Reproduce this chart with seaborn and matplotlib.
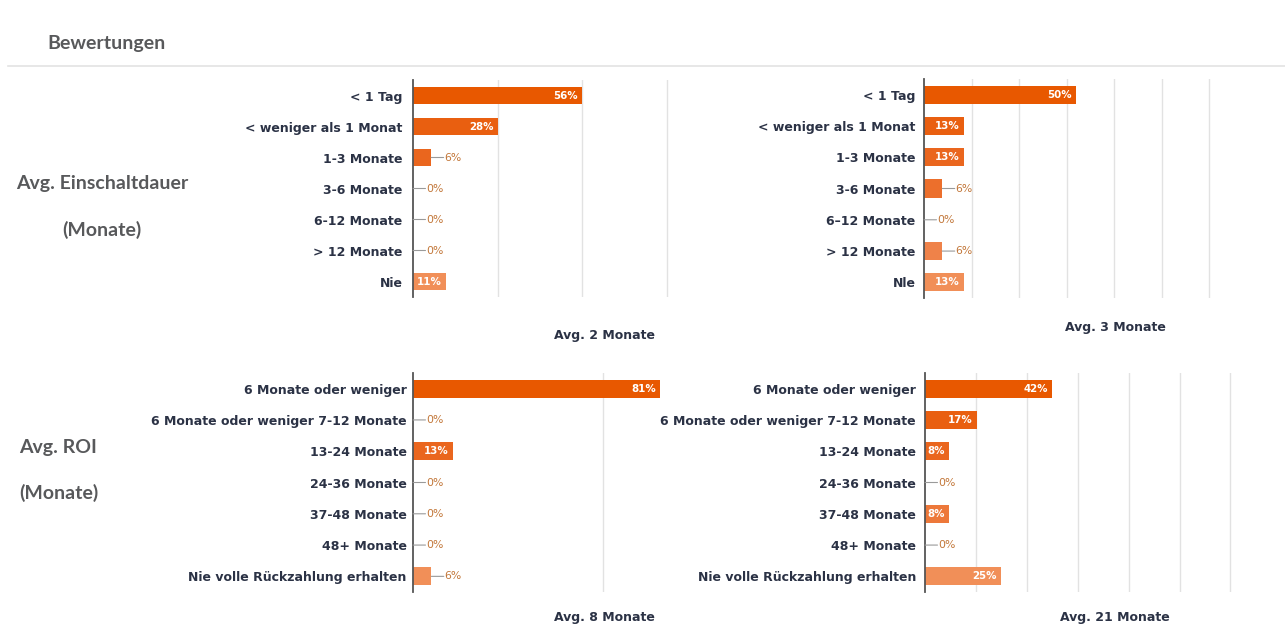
import matplotlib
matplotlib.use("Agg")
import matplotlib.pyplot as plt
from matplotlib.lines import Line2D
import seaborn as sns
import numpy as np

# ---------------- data ----------------
page_title = "Bewertungen"
row_titles = [("Avg. Einschaltdauer", "(Monate)"), ("Avg. ROI", "(Monate)")]

einschalt_cats_left = ["< 1 Tag", "< weniger als 1 Monat", "1-3 Monate", "3-6 Monate",
                       "6-12 Monate", "> 12 Monate", "Nie"]
einschalt_vals_left = [56, 28, 6, 0, 0, 0, 11]

einschalt_cats_right = ["< 1 Tag", "< weniger als 1 Monat", "1-3 Monate", "3-6 Monate",
                        "6–12 Monate", "> 12 Monate", "Nle"]
einschalt_vals_right = [50, 13, 13, 6, 0, 6, 13]

roi_cats = ["6 Monate oder weniger", "6 Monate oder weniger 7-12 Monate", "13-24 Monate",
            "24-36 Monate", "37-48 Monate", "48+ Monate", "Nie volle Rückzahlung erhalten"]
roi_vals_left = [81, 0, 13, 0, 0, 0, 6]
roi_vals_right = [42, 17, 8, 0, 8, 0, 25]

footers = ["Avg. 2 Monate", "Avg. 3 Monate", "Avg. 8 Monate", "Avg. 21 Monate"]

# ---------------- style ----------------
W, H, DPI = 1285, 625, 100
bar_colors = ["#E85800", "#E95F10", "#EA661E", "#EC6F2C", "#ED783A", "#EF8249", "#F18F58"]
label_color = "#2B3245"
grey_title = "#58595B"
out_label_color = "#C27638"
LABEL_FONT = ["DejaVu Sans"]
TITLE_FONT = ["Lato", "DejaVu Sans"]

fig = plt.figure(figsize=(W / DPI, H / DPI), dpi=DPI)
fig.patch.set_facecolor("white")


def px_axes(left, right, top, bottom):
    return fig.add_axes([left / W, 1 - bottom / H, (right - left) / W, (bottom - top) / H])


def fig_text(x, y, s, **kw):
    fig.text(x / W, 1 - y / H, s, **kw)


# panels: categories, values, (left, right, top, bottom) px, px per %, grid positions, label pad
step_tr = 15.65
step_br = 16.8
panels = [
    (einschalt_cats_left, einschalt_vals_left, (413, 720, 80, 297), 3.02, [28, 56, 84], 7.5),
    (einschalt_cats_right, einschalt_vals_right, (924, 1255, 79, 298), 3.04,
     [step_tr * k for k in range(1, 7)], 6.0),
    (roi_cats, roi_vals_left, (413, 700, 373, 592), 3.05, [62.3], 4.5),
    (roi_cats, roi_vals_right, (925, 1265, 373, 592), 3.03,
     [step_br * k for k in range(1, 7)], 6.5),
]

for cats, vals, (l, r, t, b), ppp, grid, pad in panels:
    ax = px_axes(l, r, t, b)
    sns.barplot(x=vals, y=cats, hue=cats, palette=bar_colors, legend=False,
                orient="h", width=0.58, saturation=1, ax=ax)
    ax.set_xlim(0, (r - l) / ppp)
    ax.set_ylim(6.5, -0.5)
    ax.set_xticks(grid)
    ax.set_xticklabels([])
    ax.tick_params(axis="x", length=0)
    ax.tick_params(axis="y", length=0, pad=pad)
    ax.set_yticks(range(len(cats)))
    ax.set_yticklabels(cats, fontsize=9.0, fontweight="bold", color=label_color,
                       family=LABEL_FONT)
    ax.grid(axis="x", color="#E2E2E2", lw=1)
    ax.set_axisbelow(True)
    for s in ["top", "right", "bottom"]:
        ax.spines[s].set_visible(False)
    ax.spines["left"].set_color("#555555")
    ax.spines["left"].set_linewidth(1.3)
    ax.set_xlabel("")
    ax.set_ylabel("")
    ax.set_facecolor("white")
    for i, v in enumerate(vals):
        if v >= 8:
            ax.annotate(f"{v}%", xy=(v, i), xytext=(-3, 0), textcoords="offset points",
                        ha="right", va="center", color="white", fontsize=7.4,
                        fontweight="bold", family=LABEL_FONT)
        else:
            ax.annotate("", xy=(v, i), xytext=(9, 0), textcoords="offset points",
                        arrowprops=dict(arrowstyle="-", color="#9A9A9A", lw=0.8,
                                        shrinkA=0, shrinkB=0))
            ax.annotate(f"{v}%", xy=(v, i), xytext=(9.5, 0), textcoords="offset points",
                        ha="left", va="center", color=out_label_color, fontsize=7.8,
                        family=LABEL_FONT)

# title and separator
fig_text(47, 43, page_title, fontsize=14, fontweight="bold", color=grey_title,
         family=TITLE_FONT, ha="left", va="center")
fig.add_artist(Line2D([8 / W, 1], [1 - 66 / H, 1 - 66 / H], color="#E3E3E3", lw=1.2))

# row titles
fig_text(102, 184, row_titles[0][0], fontsize=14, fontweight="bold", color=grey_title,
         family=TITLE_FONT, ha="center", va="center")
fig_text(102, 230, row_titles[0][1], fontsize=14, fontweight="bold", color=grey_title,
         family=TITLE_FONT, ha="center", va="center")
fig_text(58, 447, row_titles[1][0], fontsize=14, fontweight="bold", color=grey_title,
         family=TITLE_FONT, ha="center", va="center")
fig_text(59, 493, row_titles[1][1], fontsize=14, fontweight="bold", color=grey_title,
         family=TITLE_FONT, ha="center", va="center")

# footers
for (x, y), s in zip([(604, 335), (1115, 327), (604, 617), (1115, 617)], footers):
    fig_text(x, y, s, fontsize=9.0, fontweight="bold", color=label_color,
             family=LABEL_FONT, ha="center", va="center")

fig.savefig("out.png", dpi=DPI, facecolor="white")
